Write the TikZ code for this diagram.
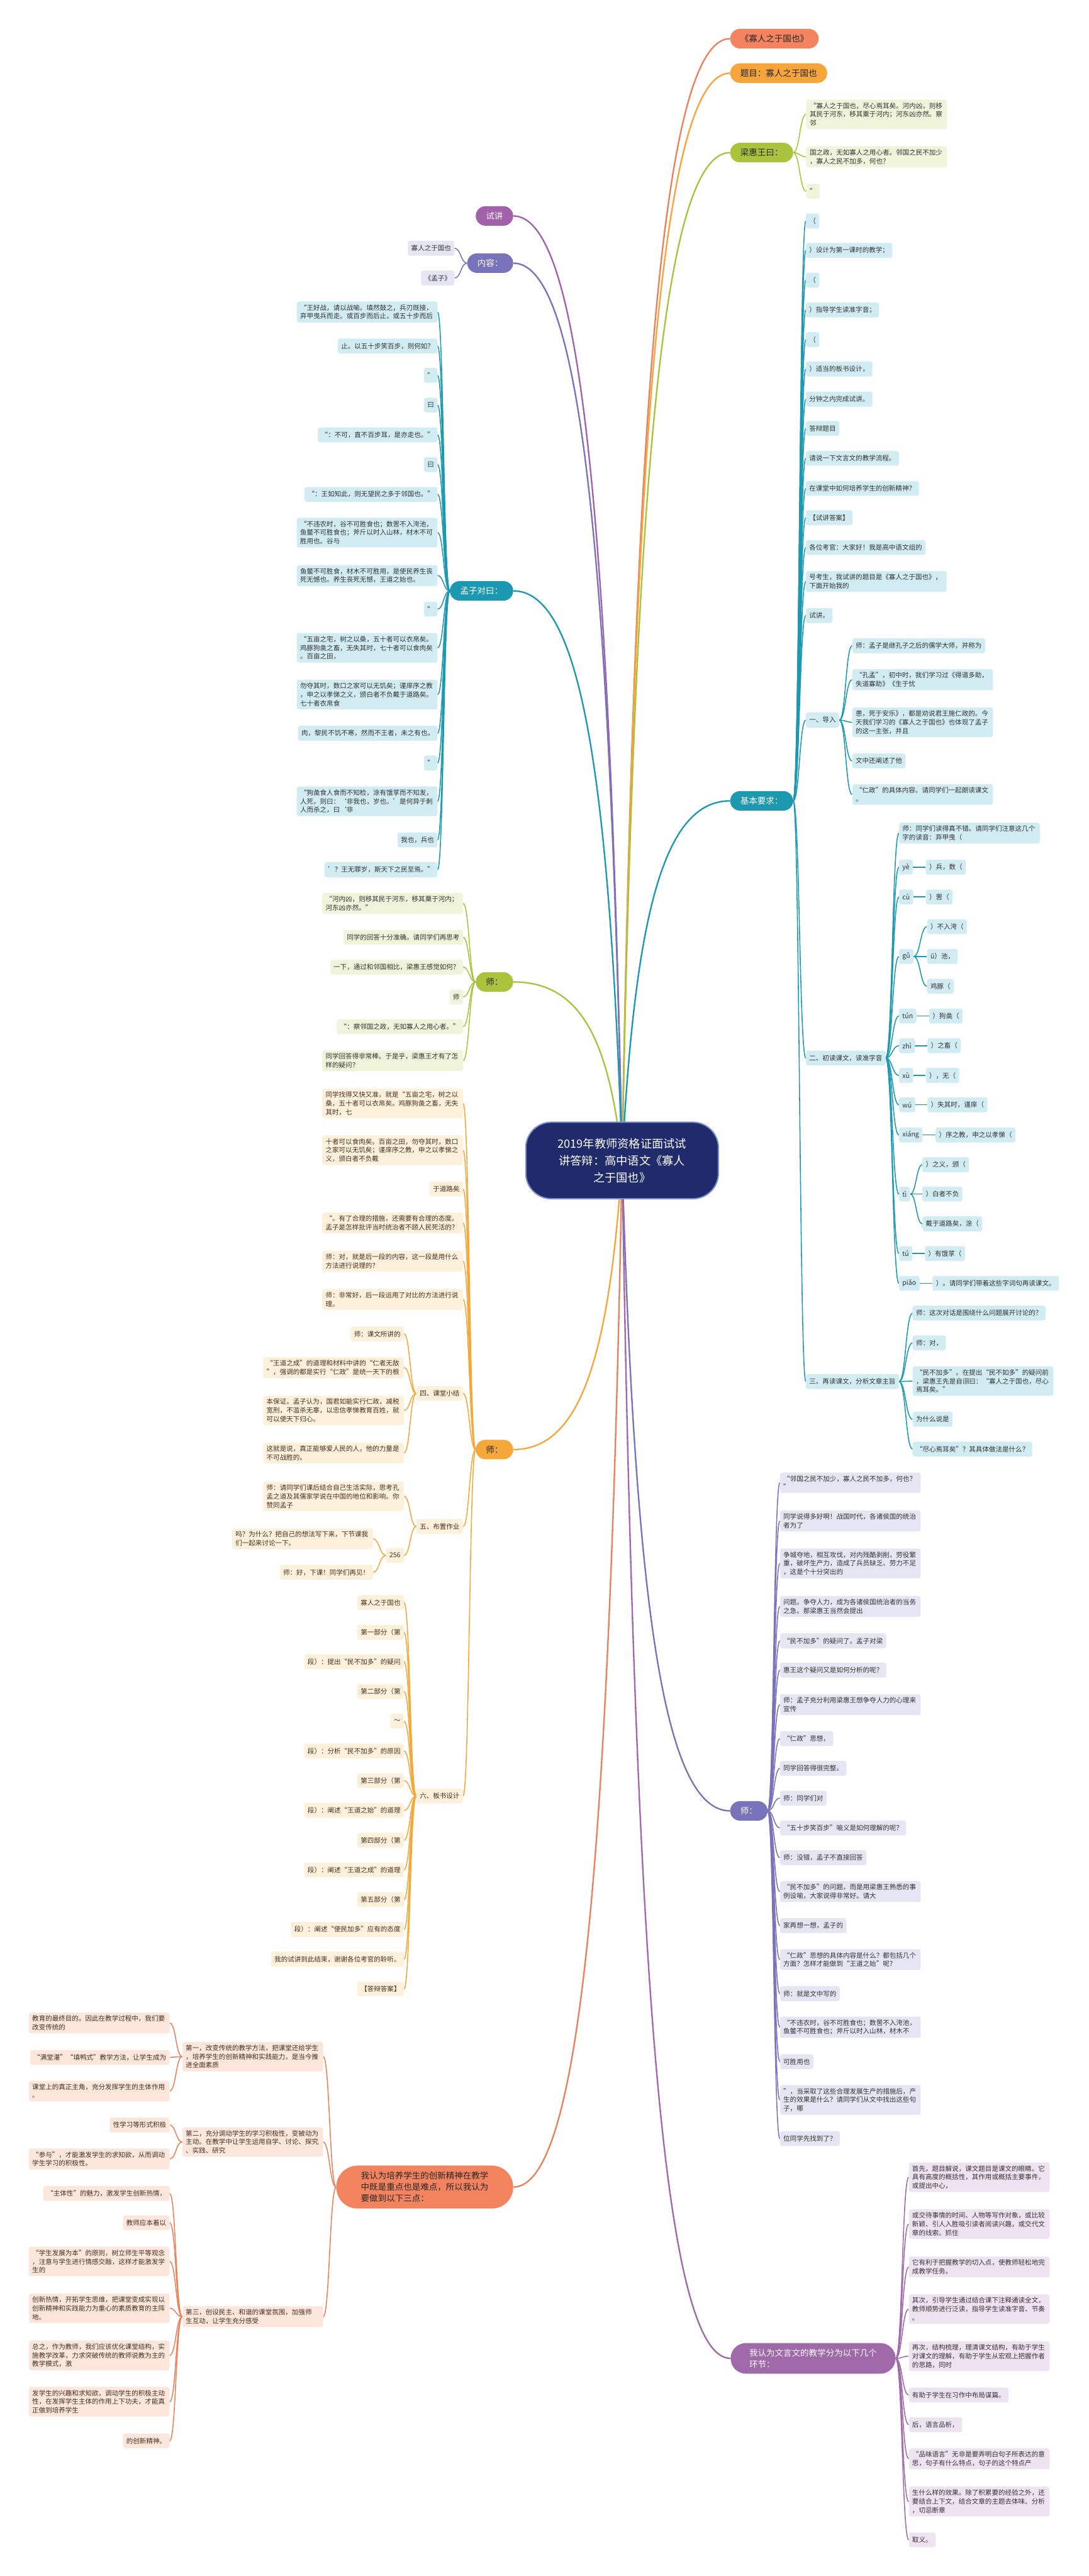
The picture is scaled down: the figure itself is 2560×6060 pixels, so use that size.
\documentclass[tikz,border=0pt]{standalone}
\usepackage{fontspec}
\setmainfont{Noto Sans CJK SC}
\usetikzlibrary{calc,backgrounds}
\definecolor{cTeal}{HTML}{1C98B0}\definecolor{cTealL}{HTML}{D2ECF3}
\definecolor{cGreen}{HTML}{A9C43C}\definecolor{cGreenL}{HTML}{F0F4DA}
\definecolor{cOrg}{HTML}{F5A83A}\definecolor{cOrgL}{HTML}{FEF1DB}
\definecolor{cTitle}{HTML}{F7A43B}
\definecolor{cCoral}{HTML}{F4845F}\definecolor{cCoralL}{HTML}{FDE6DC}\definecolor{cCoralLine}{HTML}{E9825C}
\definecolor{cPur}{HTML}{A262A9}
\definecolor{cSlate}{HTML}{7873BA}\definecolor{cSlateL}{HTML}{E6E5F4}
\definecolor{cPurB}{HTML}{A069AA}\definecolor{cPurBL}{HTML}{EEE3F1}
\definecolor{cNavy}{HTML}{1F2B6B}\definecolor{cNavyB}{HTML}{7F8FCB}
\definecolor{cBrown}{HTML}{4A2E20}
\newcommand{\lf}{\fontsize{15.6}{20.4}\selectfont}
\newcommand{\mf}{\fontsize{20}{27}\selectfont}
\newcommand{\cf}{\fontsize{27}{40}\selectfont}
\tikzset{
 leaf/.style={rounded corners=5pt, inner xsep=8pt, inner ysep=7pt, minimum height=35pt, font=\lf, text=black!80},
 ml/.style={text width=315pt, align=left},
 tl/.style={leaf, fill=cTealL},
 gl/.style={leaf, fill=cGreenL},
 ol/.style={leaf, fill=cOrgL, text=cBrown},
 cl/.style={leaf, fill=cCoralL, text=cBrown},
 sl/.style={leaf, fill=cSlateL},
 pl/.style={leaf, fill=cPurBL},
 mnode/.style={rounded corners=23pt, inner xsep=24pt, inner ysep=8pt, minimum height=46pt, font=\mf, text=black!85},
 mline/.style={line width=3.5pt},
 sline/.style={line width=2.3pt},
}
\newcommand{\ML}[2]{\draw[mline,#1] let \p1=(C.center), \p2=(#2), \n1={\x1+0.12*(\x2-\x1)}, \n2={\y1+0.7*(\y2-\y1)}, \n3={\x1+0.4*(\x2-\x1)} in (\p1) .. controls (\n1,\n2) and (\n3,\y2) .. (\p2);}
\newcommand{\SL}[3]{\draw[sline,#1] let \p1=(#2), \p2=(#3), \n1={(\x1+\x2)/2} in (\p1) .. controls (\n1,\y1) and (\n1,\y2) .. (\p2);}
\begin{document}
\begin{tikzpicture}[x=1pt,y=-1pt]
\useasboundingbox (0,0) rectangle (2560,6060);
% ---------- center
\node[fill=cNavy, draw=cNavyB, line width=3pt, rounded corners=60pt, text=white, font=\cf, align=center, minimum width=453pt, minimum height=180pt] (C) at (1463,2730) {2019年教师资格证面试试\\讲答辩：高中语文《寡人\\之于国也》};
% ---------- main nodes left
\node[mnode, fill=cPur, text=white, anchor=east, minimum width=87pt] (SJ) at (1207,508) {试讲};
\node[mnode, fill=cSlate, text=white, anchor=east, minimum width=108pt] (NR) at (1207,619) {内容：};
\node[mnode, fill=cTeal, text=white, anchor=east, minimum width=149pt] (MZ) at (1207,1390) {孟子对曰：};
\node[mnode, fill=cGreen, anchor=east, minimum width=87pt] (GS) at (1207,2310) {师：};
\node[mnode, fill=cOrg, anchor=east, minimum width=87pt] (OS) at (1207,3410) {师：};
\node[mnode, fill=cCoral, anchor=east, rounded corners=50pt, text width=300pt, align=left, inner xsep=58pt, minimum height=101pt] (CP) at (1207,5145) {我认为培养学生的创新精神在教学\\中既是重点也是难点，所以我认为\\要做到以下三点：};
% ---------- main nodes right
\node[mnode, fill=cCoral, anchor=west] (T1) at (1717,91) {《寡人之于国也》};
\node[mnode, fill=cTitle, anchor=west] (T2) at (1717,172) {题目：寡人之于国也};
\node[mnode, fill=cGreen, anchor=west] (LH) at (1717,359) {梁惠王曰：};
\node[mnode, fill=cTeal, text=white, anchor=west] (JB) at (1717,1884) {基本要求：};
\node[mnode, fill=cSlate, text=white, anchor=west, minimum width=87pt] (VS) at (1717,4260) {师：};
\node[mnode, fill=cPurB, text=white, anchor=west, text width=300pt, align=left, inner xsep=44pt, rounded corners=36pt, minimum height=72pt] (WY) at (1718,5548) {我认为文言文的教学分为以下几个\\环节：};
% ---------- 内容
\node[sl, anchor=east] (N1) at (1069,584) {寡人之于国也};
\node[sl, anchor=east] (N2) at (1069,654) {《孟子》};
% ---------- 孟子对曰
\node[tl, ml, anchor=east] (M1) at (1029,734) {“王好战，请以战喻。填然鼓之，兵刃既接，\\弃甲曳兵而走。或百步而后止，或五十步而后};
\node[tl, anchor=east] (M2) at (1029,814) {止。以五十步笑百步，则何如？};
\node[tl, anchor=east] (M3) at (1029,883) {”};
\node[tl, anchor=east] (M4) at (1029,953) {曰};
\node[tl, anchor=east] (M5) at (1029,1023) {“：不可，直不百步耳，是亦走也。”};
\node[tl, anchor=east] (M6) at (1029,1093) {曰};
\node[tl, anchor=east] (M7) at (1029,1163) {“：王如知此，则无望民之多于邻国也。”};
\node[tl, ml, anchor=east] (M8) at (1029,1253) {“不违农时，谷不可胜食也；数罟不入洿池，\\鱼鳖不可胜食也；斧斤以时入山林，材木不可\\胜用也。谷与};
\node[tl, ml, anchor=east] (M9) at (1029,1354) {鱼鳖不可胜食，材木不可胜用，是使民养生丧\\死无憾也。养生丧死无憾，王道之始也。};
\node[tl, anchor=east] (M10) at (1029,1433) {”};
\node[tl, ml, anchor=east] (M11) at (1029,1524) {“五亩之宅，树之以桑，五十者可以衣帛矣。\\鸡豚狗彘之畜，无失其时，七十者可以食肉矣\\。百亩之田，};
\node[tl, ml, anchor=east] (M12) at (1029,1634) {勿夺其时，数口之家可以无饥矣；谨庠序之教\\，申之以孝悌之义，颁白者不负戴于道路矣。\\七十者衣帛食};
\node[tl, anchor=east] (M13) at (1029,1725) {肉，黎民不饥不寒，然而不王者，未之有也。};
\node[tl, anchor=east] (M14) at (1029,1795) {”};
\node[tl, ml, anchor=east] (M15) at (1029,1885) {“狗彘食人食而不知检，涂有饿莩而不知发，\\人死，则曰：‘非我也，岁也。’是何异于刺\\人而杀之，曰‘非};
\node[tl, anchor=east] (M16) at (1029,1976) {我也，兵也};
\node[tl, anchor=east] (M17) at (1029,2046) {’？王无罪岁，斯天下之民至焉。”};
% ---------- green 师
\node[gl, ml, anchor=east] (G1) at (1089,2125) {“河内凶，则移其民于河东，移其粟于河内；\\河东凶亦然。”};
\node[gl, anchor=east] (G2) at (1089,2205) {同学的回答十分准确。请同学们再思考};
\node[gl, anchor=east] (G3) at (1089,2275) {一下，通过和邻国相比，梁惠王感觉如何？};
\node[gl, anchor=east] (G4) at (1089,2345) {师};
\node[gl, anchor=east] (G5) at (1089,2415) {“：察邻国之政，无如寡人之用心者。”};
\node[gl, ml, anchor=east] (G6) at (1089,2495) {同学回答得非常棒。于是乎，梁惠王才有了怎\\样的疑问？};
% ---------- orange 师
\node[ol, ml, anchor=east] (O1) at (1089,2596) {同学找得又快又准，就是“五亩之宅，树之以\\桑，五十者可以衣帛矣。鸡豚狗彘之畜，无失\\其时，七};
\node[ol, ml, anchor=east] (O2) at (1089,2706) {十者可以食肉矣。百亩之田，勿夺其时，数口\\之家可以无饥矣；谨庠序之教，申之以孝悌之\\义，颁白者不负戴};
\node[ol, anchor=east] (O3) at (1089,2797) {于道路矣};
\node[ol, ml, anchor=east] (O4) at (1089,2877) {“。有了合理的措施，还需要有合理的态度。\\孟子是怎样批评当时统治者不顾人民死活的？};
\node[ol, ml, anchor=east] (O5) at (1089,2967) {师：对，就是后一段的内容，这一段是用什么\\方法进行说理的？};
\node[ol, ml, anchor=east] (O6) at (1089,3057) {师：非常好，后一段运用了对比的方法进行说\\理。};
\node[ol, anchor=east] (Q4) at (1089,3278) {四、课堂小结};
\node[ol, anchor=east] (Q5) at (1089,3591) {五、布置作业};
\node[ol, anchor=east] (Q6) at (1089,4225) {六、板书设计};
\node[ol, anchor=east] (S1) at (950,3138) {师：课文所讲的};
\node[ol, ml, anchor=east] (S2) at (950,3217) {“王道之成”的道理和材料中讲的“仁者无敌\\”，强调的都是实行“仁政”是统一天下的根};
\node[ol, ml, anchor=east] (S3) at (950,3318) {本保证。孟子认为，国君如能实行仁政，减税\\宽刑，不滥杀无辜，以忠信孝悌教育百姓，就\\可以使天下归心。};
\node[ol, ml, anchor=east] (S4) at (950,3418) {这就是说，真正能够爱人民的人，他的力量是\\不可战胜的。};
\node[ol, ml, anchor=east] (W1) at (950,3520) {师：请同学们课后结合自己生活实际，思考孔\\孟之道及其儒家学说在中国的地位和影响。你\\赞同孟子};
\node[ol, anchor=east] (N256) at (950,3659) {256};
\node[ol, ml, anchor=east] (W2) at (877,3620) {吗？为什么？把自己的想法写下来，下节课我\\们一起来讨论一下。};
\node[ol, anchor=east] (W3) at (877,3699) {师：好，下课！同学们再见！};
\node[ol, anchor=east] (B1) at (950,3770) {寡人之于国也};
\node[ol, anchor=east] (B2) at (950,3840) {第一部分（第};
\node[ol, anchor=east] (B3) at (950,3909) {段）：提出“民不加多”的疑问};
\node[ol, anchor=east] (B4) at (950,3979) {第二部分（第};
\node[ol, anchor=east] (B5) at (950,4049) {～};
\node[ol, anchor=east] (B6) at (950,4119) {段）：分析“民不加多”的原因};
\node[ol, anchor=east] (B7) at (950,4189) {第三部分（第};
\node[ol, anchor=east] (B8) at (950,4259) {段）：阐述“王道之始”的道理};
\node[ol, anchor=east] (B9) at (950,4329) {第四部分（第};
\node[ol, anchor=east] (B10) at (950,4399) {段）：阐述“王道之成”的道理};
\node[ol, anchor=east] (B11) at (950,4469) {第五部分（第};
\node[ol, anchor=east] (B12) at (950,4539) {段）：阐述“使民加多”应有的态度};
\node[ol, anchor=east] (B13) at (950,4609) {我的试讲到此结束，谢谢各位考官的聆听。};
\node[ol, anchor=east] (B14) at (950,4679) {【答辩答案】};
% ---------- coral left
\node[cl, ml, anchor=east] (L1) at (760,4838) {第一，改变传统的教学方法，把课堂还给学生\\，培养学生的创新精神和实践能力，是当今推\\进全面素质};
\node[cl, ml, anchor=east] (L2) at (760,5039) {第二，充分调动学生的学习积极性，变被动为\\主动。在教学中让学生运用自学、讨论、探究\\、实践、研究};
\node[cl, ml, anchor=east] (L3) at (760,5450) {第三，创设民主、和谐的课堂氛围，加强师\\生互动，让学生充分感受};
\node[cl, ml, anchor=east] (F1) at (399,4759) {教育的最终目的。因此在教学过程中，我们要\\改变传统的};
\node[cl, anchor=east] (F2) at (399,4840) {“满堂灌”“填鸭式”教学方法，让学生成为};
\node[cl, ml, anchor=east] (F3) at (399,4919) {课堂上的真正主角，充分发挥学生的主体作用\\。};
\node[cl, anchor=east] (F4) at (399,4999) {性学习等形式积极};
\node[cl, ml, anchor=east] (F5) at (399,5079) {“参与”，才能激发学生的求知欲，从而调动\\学生学习的积极性。};
\node[cl, anchor=east] (F6) at (399,5160) {“主体性”的魅力，激发学生创新热情，};
\node[cl, anchor=east] (F7) at (399,5229) {教师应本着以};
\node[cl, ml, anchor=east] (F8) at (399,5320) {“学生发展为本”的原则，树立师生平等观念\\，注意与学生进行情感交融，这样才能激发学\\生的};
\node[cl, ml, anchor=east] (F9) at (399,5430) {创新热情，开拓学生思维，把课堂变成实现以\\创新精神和实践能力为重心的素质教育的主阵\\地。};
\node[cl, ml, anchor=east] (F10) at (399,5541) {总之，作为教师，我们应该优化课堂结构，实\\施教学改革，力求突破传统的教师说教为主的\\教学模式，激};
\node[cl, ml, anchor=east] (F11) at (399,5650) {发学生的兴趣和求知欲，调动学生的积极主动\\性，在发挥学生主体的作用上下功夫，才能真\\正做到培养学生};
\node[cl, anchor=east] (F12) at (399,5742) {的创新精神。};
% ---------- 梁惠王曰
\node[gl, ml, anchor=west] (R1) at (1896,269) {“寡人之于国也，尽心焉耳矣。河内凶，则移\\其民于河东，移其粟于河内；河东凶亦然。察\\邻};
\node[gl, ml, anchor=west] (R2) at (1896,369) {国之政，无如寡人之用心者。邻国之民不加少\\，寡人之民不加多，何也？};
\node[gl, anchor=west] (R3) at (1896,450) {”};
% ---------- 基本要求
\node[tl, anchor=west] (K1) at (1895,520) {（};
\node[tl, anchor=west] (K2) at (1895,589) {）设计为第一课时的教学；};
\node[tl, anchor=west] (K3) at (1895,659) {（};
\node[tl, anchor=west] (K4) at (1895,729) {）指导学生读准字音；};
\node[tl, anchor=west] (K5) at (1895,799) {（};
\node[tl, anchor=west] (K6) at (1895,868) {）适当的板书设计，};
\node[tl, anchor=west] (K7) at (1895,939) {分钟之内完成试讲。};
\node[tl, anchor=west] (K8) at (1895,1008) {答辩题目};
\node[tl, anchor=west] (K9) at (1895,1078) {请说一下文言文的教学流程。};
\node[tl, anchor=west] (K10) at (1895,1149) {在课堂中如何培养学生的创新精神？};
\node[tl, anchor=west] (K11) at (1895,1218) {【试讲答案】};
\node[tl, anchor=west] (K12) at (1895,1288) {各位考官：大家好！我是高中语文组的};
\node[tl, anchor=west, text width=315pt, align=left] (K13) at (1895,1368) {号考生，我试讲的题目是《寡人之于国也》，\\下面开始我的};
\node[tl, anchor=west] (K14) at (1895,1448) {试讲。};
\node[tl, anchor=west] (Y1) at (1895,1694) {一、导入};
\node[tl, anchor=west] (Y2) at (1895,2489) {二、初读课文，读准字音};
\node[tl, anchor=west] (Y3) at (1895,3250) {三、再读课文，分析文章主旨};
\node[tl, anchor=west] (D1) at (2004,1519) {师：孟子是继孔子之后的儒学大师，并称为};
\node[tl, ml, anchor=west] (D2) at (2004,1599) {“孔孟”，初中时，我们学习过《得道多助，\\失道寡助》《生于忧};
\node[tl, ml, anchor=west] (D3) at (2004,1699) {患，死于安乐》，都是劝说君王施仁政的。今\\天我们学习的《寡人之于国也》也体现了孟子\\的这一主张，并且};
\node[tl, anchor=west] (D4) at (2004,1790) {文中还阐述了他};
\node[tl, ml, anchor=west] (D5) at (2004,1869) {“仁政”的具体内容。请同学们一起朗读课文\\。};
\node[tl, ml, anchor=west] (P1) at (2114,1960) {师：同学们读得真不错。请同学们注意这几个\\字的读音：弃甲曳（};
\node[tl, anchor=west] (ye) at (2114,2040) {yè};
\node[tl, anchor=west] (cu) at (2114,2110) {cù};
\node[tl, anchor=west] (gu) at (2114,2250) {gǔ};
\node[tl, anchor=west] (tun) at (2114,2390) {tún};
\node[tl, anchor=west] (zhi) at (2114,2460) {zhì};
\node[tl, anchor=west] (xu) at (2114,2530) {xù};
\node[tl, anchor=west] (wu) at (2114,2599) {wú};
\node[tl, anchor=west] (xiang) at (2114,2670) {xiáng};
\node[tl, anchor=west] (ti) at (2114,2809) {tì};
\node[tl, anchor=west] (tu) at (2114,2949) {tú};
\node[tl, anchor=west] (piao) at (2114,3019) {piǎo};
\node[tl, anchor=west] (ye1) at (2177,2040) {）兵，数（};
\node[tl, anchor=west] (cu1) at (2177,2110) {）罟（};
\node[tl, anchor=west] (gu1) at (2180,2180) {）不入洿（};
\node[tl, anchor=west] (gu2) at (2180,2250) {ū）池，};
\node[tl, anchor=west] (gu3) at (2180,2320) {鸡豚（};
\node[tl, anchor=west] (tun1) at (2185,2390) {）狗彘（};
\node[tl, anchor=west] (zhi1) at (2181,2460) {）之畜（};
\node[tl, anchor=west] (xu1) at (2177,2530) {），无（};
\node[tl, anchor=west] (wu1) at (2181,2599) {）失其时，谨庠（};
\node[tl, anchor=west] (xiang1) at (2200,2670) {）序之教，申之以孝悌（};
\node[tl, anchor=west] (ti1) at (2169,2740) {）之义，颁（};
\node[tl, anchor=west] (ti2) at (2169,2809) {）白者不负};
\node[tl, anchor=west] (ti3) at (2169,2879) {戴于道路矣，涂（};
\node[tl, anchor=west] (tu1) at (2175,2949) {）有饿莩（};
\node[tl, anchor=west] (piao1) at (2193,3019) {）。请同学们带着这些字词句再读课文。};
\node[tl, anchor=west] (U1) at (2146,3089) {师：这次对话是围绕什么问题展开讨论的？};
\node[tl, anchor=west] (U2) at (2146,3159) {师：对，};
\node[tl, ml, anchor=west] (U3) at (2146,3249) {“民不加多”。在提出“民不如多”的疑问前\\，梁惠王先是自诩曰：“寡人之于国也，尽心\\焉耳矣。”};
\node[tl, anchor=west] (U4) at (2146,3339) {为什么说是};
\node[tl, anchor=west] (U5) at (2146,3409) {“尽心焉耳矣”？其具体做法是什么？};
% ---------- right 师
\node[sl, ml, anchor=west] (V1) at (1834,3488) {“邻国之民不加少，寡人之民不加多，何也？\\”};
\node[sl, ml, anchor=west] (V2) at (1834,3578) {同学说得多好啊！战国时代，各诸侯国的统治\\者为了};
\node[sl, ml, anchor=west] (V3) at (1834,3678) {争城夺地，相互攻伐，对内残酷剥削，劳役繁\\重，破坏生产力，造成了兵员缺乏、劳力不足\\，这是个十分突出的};
\node[sl, ml, anchor=west] (V4) at (1834,3779) {问题。争夺人力，成为各诸侯国统治者的当务\\之急。那梁惠王当然会提出};
\node[sl, anchor=west] (V5) at (1834,3860) {“民不加多”的疑问了。孟子对梁};
\node[sl, anchor=west] (V6) at (1834,3929) {惠王这个疑问又是如何分析的呢？};
\node[sl, ml, anchor=west] (V7) at (1834,4010) {师：孟子充分利用梁惠王想争夺人力的心理来\\宣传};
\node[sl, anchor=west] (V8) at (1834,4090) {“仁政”思想，};
\node[sl, anchor=west] (V9) at (1834,4160) {同学回答得很完整。};
\node[sl, anchor=west] (V10) at (1834,4230) {师：同学们对};
\node[sl, anchor=west] (V11) at (1834,4300) {“五十步笑百步”喻义是如何理解的呢？};
\node[sl, anchor=west] (V12) at (1834,4370) {师：没错，孟子不直接回答};
\node[sl, ml, anchor=west] (V13) at (1834,4450) {“民不加多”的问题，而是用梁惠王熟悉的事\\例设喻，大家说得非常好。请大};
\node[sl, anchor=west] (V14) at (1834,4530) {家再想一想，孟子的};
\node[sl, ml, anchor=west] (V15) at (1834,4610) {“仁政”思想的具体内容是什么？都包括几个\\方面？怎样才能做到“王道之始”呢？};
\node[sl, anchor=west] (V16) at (1834,4690) {师：就是文中写的};
\node[sl, ml, anchor=west] (V17) at (1834,4769) {“不违农时，谷不可胜食也；数罟不入洿池，\\鱼鳖不可胜食也；斧斤以时入山林，材木不};
\node[sl, anchor=west] (V18) at (1834,4850) {可胜用也};
\node[sl, ml, anchor=west] (V19) at (1834,4940) {”，当采取了这些合理发展生产的措施后，产\\生的效果是什么？请同学们从文中找出这些句\\子，哪};
\node[sl, anchor=west] (V20) at (1834,5031) {位同学先找到了？};
% ---------- bottom right
\node[pl, ml, anchor=west] (A1) at (2137,5122) {首先，题目解说，课文题目是课文的眼睛。它\\具有高度的概括性，其作用或概括主要事件，\\或提出中心，};
\node[pl, ml, anchor=west] (A2) at (2137,5232) {或交待事情的时间、人物等写作对象，或比较\\新颖、引人入胜吸引读者阅读兴趣，或交代文\\章的线索。抓住};
\node[pl, ml, anchor=west] (A3) at (2137,5333) {它有利于把握教学的切入点，使教师轻松地完\\成教学任务。};
\node[pl, ml, anchor=west] (A4) at (2137,5432) {其次，引导学生通过结合课下注释通读全文，\\教师顺势进行泛读，指导学生读准字音、节奏\\。};
\node[pl, ml, anchor=west] (A5) at (2137,5543) {再次，结构梳理，理清课文结构，有助于学生\\对课文的理解，有助于学生从宏观上把握作者\\的思路，同时};
\node[pl, anchor=west] (A6) at (2137,5634) {有助于学生在习作中布局谋篇。};
\node[pl, anchor=west] (A7) at (2137,5704) {后，语言品析，};
\node[pl, ml, anchor=west] (A8) at (2137,5784) {“品味语言”无非是要弄明白句子所表达的意\\思，句子有什么特点，句子的这个特点产};
\node[pl, ml, anchor=west] (A9) at (2137,5885) {生什么样的效果。除了积累要的经验之外，还\\要结合上下文，结合文章的主题去体味、分析\\，切忌断章};
\node[pl, anchor=west] (A10) at (2137,5975) {取义。};
% ---------- connectors
\begin{pgfonlayer}{background}
\fill[white] (0,0) rectangle (2560,6060);
\ML{cPur}{SJ.east}
\ML{cSlate}{NR.east}
\ML{cTeal}{MZ.east}
\ML{cGreen}{GS.east}
\ML{cOrg}{OS.east}
\ML{cCoralLine}{CP.east}
\ML{cCoralLine}{T1.west}
\ML{cTitle}{T2.west}
\ML{cGreen}{LH.west}
\ML{cTeal}{JB.west}
\ML{cSlate}{VS.west}
\ML{cPurB}{WY.west}
\foreach \c in {N1,N2} {\SL{cSlate}{NR.west}{\c.east}}
\foreach \c in {M1,M2,M3,M4,M5,M6,M7,M8,M9,M10,M11,M12,M13,M14,M15,M16,M17} {\SL{cTeal}{MZ.west}{\c.east}}
\foreach \c in {G1,G2,G3,G4,G5,G6} {\SL{cGreen}{GS.west}{\c.east}}
\foreach \c in {O1,O2,O3,O4,O5,O6,Q4,Q5,Q6} {\SL{cOrg}{OS.west}{\c.east}}
\foreach \c in {S1,S2,S3,S4} {\SL{cOrg}{Q4.west}{\c.east}}
\foreach \c in {W1,N256} {\SL{cOrg}{Q5.west}{\c.east}}
\foreach \c in {W2,W3} {\SL{cOrg}{N256.west}{\c.east}}
\foreach \c in {B1,B2,B3,B4,B5,B6,B7,B8,B9,B10,B11,B12,B13,B14} {\SL{cOrg}{Q6.west}{\c.east}}
\foreach \c in {L1,L2,L3} {\SL{cCoralLine}{CP.west}{\c.east}}
\foreach \c in {F1,F2,F3} {\SL{cCoralLine}{L1.west}{\c.east}}
\foreach \c in {F4,F5} {\SL{cCoralLine}{L2.west}{\c.east}}
\foreach \c in {F6,F7,F8,F9,F10,F11,F12} {\SL{cCoralLine}{L3.west}{\c.east}}
\foreach \c in {R1,R2,R3} {\SL{cGreen}{LH.east}{\c.west}}
\foreach \c in {K1,K2,K3,K4,K5,K6,K7,K8,K9,K10,K11,K12,K13,K14,Y1,Y2,Y3} {\SL{cTeal}{JB.east}{\c.west}}
\foreach \c in {D1,D2,D3,D4,D5} {\SL{cTeal}{Y1.east}{\c.west}}
\foreach \c in {P1,ye,cu,gu,tun,zhi,xu,wu,xiang,ti,tu,piao} {\SL{cTeal}{Y2.east}{\c.west}}
\foreach \a/\b in {ye/ye1,cu/cu1,tun/tun1,zhi/zhi1,xu/xu1,wu/wu1,xiang/xiang1,tu/tu1,piao/piao1} {\draw[sline,cTeal] (\a.east) -- (\b.west);}
\foreach \c in {gu1,gu2,gu3} {\SL{cTeal}{gu.east}{\c.west}}
\foreach \c in {ti1,ti2,ti3} {\SL{cTeal}{ti.east}{\c.west}}
\foreach \c in {U1,U2,U3,U4,U5} {\SL{cTeal}{Y3.east}{\c.west}}
\foreach \c in {V1,V2,V3,V4,V5,V6,V7,V8,V9,V10,V11,V12,V13,V14,V15,V16,V17,V18,V19,V20} {\SL{cSlate}{VS.east}{\c.west}}
\foreach \c in {A1,A2,A3,A4,A5,A6,A7,A8,A9,A10} {\SL{cPurB}{WY.east}{\c.west}}
\end{pgfonlayer}
\end{tikzpicture}
\end{document}
